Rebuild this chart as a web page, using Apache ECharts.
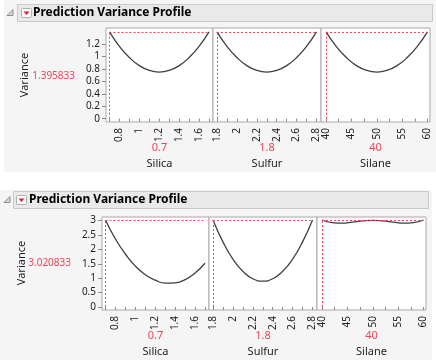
<!DOCTYPE html>
<html><head><meta charset="utf-8">
<script src="https://cdn.jsdelivr.net/npm/echarts@6/dist/echarts.min.js"></script>
<style>html,body{margin:0;padding:0;background:#fff}#c{width:436px;height:360px}</style>
</head><body><div id="c"></div>
<script>
// ---------- data ----------
const titleText = 'Prediction Variance Profile';
const yName = 'Variance';
const factorNames = ['Silica', 'Sulfur', 'Silane'];
const currentSettings = [0.7, 1.8, 40];
const currentVariance = [1.395833, 3.020833];
const currentVarianceText = ['1.395833', '3.020833'];
const factorRanges = [[0.7, 1.7], [1.8, 2.8], [40, 60]];

const silicaX = [0.7, 0.8, 0.9, 1.0, 1.1, 1.2, 1.3, 1.4, 1.5, 1.6, 1.7];
const sulfurX = [1.8, 1.9, 2.0, 2.1, 2.2, 2.3, 2.4, 2.5, 2.6, 2.7, 2.8];
const silaneX = [40, 42, 44, 46, 48, 50, 52, 54, 56, 58, 60];

// profile 1 (top)
const topSilicaVar = [1.396, 1.163, 0.983, 0.853, 0.776, 0.750, 0.776, 0.853, 0.983, 1.163, 1.396];
const topSulfurVar = [1.396, 1.163, 0.983, 0.853, 0.776, 0.750, 0.776, 0.853, 0.983, 1.163, 1.396];
const topSilaneVar = [1.396, 1.163, 0.983, 0.853, 0.776, 0.750, 0.776, 0.853, 0.983, 1.163, 1.396];
// profile 2 (bottom)
const botSilicaVar = [3.021, 2.36, 1.84, 1.42, 1.12, 0.93, 0.83, 0.84, 0.95, 1.18, 1.52];
const botSulfurVar = [3.021, 2.26, 1.66, 1.24, 0.98, 0.90, 0.98, 1.24, 1.66, 2.26, 3.021];
const botSilaneVar = [3.021, 2.93, 2.91, 2.95, 2.99, 3.01, 2.99, 2.95, 2.91, 2.93, 3.021];

const xLabelValues = [[0.8, 1, 1.2, 1.4, 1.6], [1.8, 2, 2.2, 2.4, 2.6, 2.8], [40, 45, 50, 55, 60]];
const xTickValues = [
  [0.7, 0.8, 0.9, 1, 1.1, 1.2, 1.3, 1.4, 1.5, 1.6, 1.7],
  [1.8, 1.9, 2, 2.1, 2.2, 2.3, 2.4, 2.5, 2.6, 2.7, 2.8],
  [40, 42.5, 45, 47.5, 50, 52.5, 55, 57.5, 60]
];
const yLabelValues = [[0, 0.2, 0.4, 0.6, 0.8, 1, 1.2], [0, 0.5, 1, 1.5, 2, 2.5, 3]];

// ---------- layout ----------
const xs = [silicaX, sulfurX, silaneX];
const profiles = [[topSilicaVar, topSulfurVar, topSilaneVar], [botSilicaVar, botSulfurVar, botSilaneVar]];
const rowTop = [28, 217];
const rowH = [94, 93];
const colLeft = [[106, 213, 321], [102, 209, 317]];
const colW = [107, 108, 109];
const xExtent = [[0.665, 1.74], [1.76, 2.845], [39.0, 60.5]];
const yExtent = [[-0.053, 1.458], [-0.104, 3.125]];
const FONT = 'Noto Sans';
const RED = '#ef4459';

const grids = [], xAxes = [], yAxes = [], series = [];
for (let r = 0; r < 2; r++) {
  for (let c = 0; c < 3; c++) {
    const i = r * 3 + c;
    grids.push({left: colLeft[r][c], top: rowTop[r], width: colW[c], height: rowH[r],
      show: true, backgroundColor: '#ffffff', borderColor: '#a9a9a9', borderWidth: 1, containLabel: false});
    xAxes.push({type: 'value', gridIndex: i, min: xExtent[c][0], max: xExtent[c][1],
      axisLine: {show: false}, splitLine: {show: false},
      axisTick: {show: true, length: 3, customValues: xTickValues[c], lineStyle: {color: '#8a8a8a'}},
      axisLabel: {show: true, rotate: 90, margin: 6, customValues: xLabelValues[c],
        color: '#222', fontFamily: FONT, fontSize: 10},
      name: '{v|' + currentSettings[c] + '}\n{n|' + factorNames[c] + '}',
      nameLocation: 'middle', nameGap: 18, nameMoveOverlap: false,
      nameTextStyle: {rich: {
        v: {color: RED, fontFamily: FONT, fontSize: 11, lineHeight: 16},
        n: {color: '#222', fontFamily: FONT, fontSize: 11, lineHeight: 16}
      }}
    });
    yAxes.push({type: 'value', gridIndex: i, min: yExtent[r][0], max: yExtent[r][1],
      show: c === 0, axisLine: {show: false}, splitLine: {show: false},
      axisTick: {show: c === 0, length: 4, customValues: yLabelValues[r], lineStyle: {color: '#8a8a8a'}},
      axisLabel: {show: c === 0, margin: 6, customValues: yLabelValues[r], color: '#222', fontFamily: FONT, fontSize: 10}
    });
    const pts = xs[c].map((x, k) => [x, profiles[r][c][k]]);
    series.push({type: 'line', xAxisIndex: i, yAxisIndex: i, data: pts, smooth: 0.5,
      showSymbol: false, silent: true,
      lineStyle: {color: '#3f3f3f', width: 1.3},
      markLine: {silent: true, symbol: 'none', animation: false,
        lineStyle: {color: RED, type: [2, 2], width: 1}, label: {show: false},
        data: [
          [{coord: [currentSettings[c], 0]}, {coord: [currentSettings[c], currentVariance[r]]}],
          [{coord: [factorRanges[c][0], currentVariance[r]]}, {coord: [factorRanges[c][1], currentVariance[r]]}]
        ]}
    });
  }
}

function header(y0, x0, x1, triX, btnX, titleX) {
  return [
    {type: 'rect', z: 5, shape: {x: x0 + 0.5, y: y0 + 0.5, width: x1 - x0, height: 17},
      style: {fill: '#e9e9e9', stroke: '#c9c9c9', lineWidth: 1}},
    {type: 'polygon', z: 6, shape: {points: [[triX, y0 + 11.5], [triX + 6, y0 + 5.5], [triX + 6, y0 + 11.5]]},
      style: {fill: '#d8d8d8', stroke: '#8c8c8c', lineWidth: 1}},
    {type: 'rect', z: 6, shape: {x: btnX + 0.5, y: y0 + 4.5, width: 10, height: 9, r: 1},
      style: {fill: '#fafafa', stroke: '#b0b0b0', lineWidth: 1}},
    {type: 'polygon', z: 7, shape: {points: [[btnX + 2.5, y0 + 7.5], [btnX + 8.5, y0 + 7.5], [btnX + 5.5, y0 + 11]]},
      style: {fill: '#e0202e'}},
    {type: 'text', z: 7, x: titleX, y: y0 + 9,
      style: {text: titleText, fill: '#000', font: 'bold 12px "' + FONT + '"', verticalAlign: 'middle', align: 'left'}}
  ];
}

const graphics = [
  {type: 'rect', z: -10, shape: {x: 4, y: 0, width: 432, height: 172}, style: {fill: '#f5f5f5'}},
  {type: 'rect', z: -10, shape: {x: 0, y: 190, width: 432, height: 170}, style: {fill: '#f5f5f5'}},
  ...header(4, 17, 432, 7, 21, 33),
  ...header(191, 13, 428, 4, 16, 29),
  {type: 'text', x: 25, y: 75, rotation: Math.PI / 2,
    style: {text: yName, fill: '#222', font: '11px "' + FONT + '"', align: 'center', verticalAlign: 'middle'}},
  {type: 'text', x: 22, y: 263, rotation: Math.PI / 2,
    style: {text: yName, fill: '#222', font: '11px "' + FONT + '"', align: 'center', verticalAlign: 'middle'}},
  {type: 'text', x: 75, y: 76,
    style: {text: currentVarianceText[0], fill: RED, font: '10px "' + FONT + '"', align: 'right', verticalAlign: 'middle'}},
  {type: 'text', x: 71, y: 263,
    style: {text: currentVarianceText[1], fill: RED, font: '10px "' + FONT + '"', align: 'right', verticalAlign: 'middle'}}
];

const chart = echarts.init(document.getElementById('c'), null, {renderer: 'canvas'});
chart.setOption({
  animation: false,
  backgroundColor: '#ffffff',
  grid: grids, xAxis: xAxes, yAxis: yAxes, series: series,
  graphic: {elements: graphics}
});
</script></body></html>
